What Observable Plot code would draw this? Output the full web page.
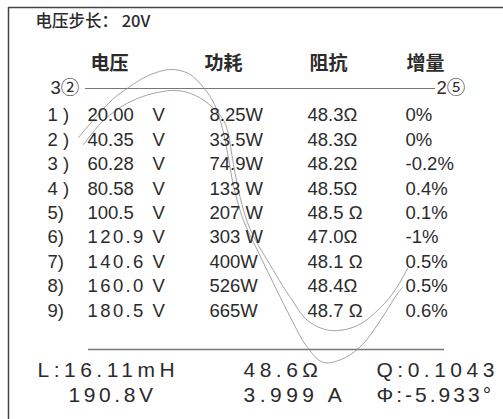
<!DOCTYPE html>
<html><head><meta charset="utf-8">
<script src="https://cdn.jsdelivr.net/npm/d3@7"></script>
<script src="https://cdn.jsdelivr.net/npm/@observablehq/plot@0.6"></script>
<style>body{margin:0;background:#fff} svg{display:block}</style>
</head><body><div id="chart"></div>
<script>
// ---- data ----
const stepLabel = "电压步长： 20V";
const headers = ["电压", "功耗", "阻抗", "增量"];
const rowLabels = ["1 )", "2 )", "3 )", "4 )", "5)", "6)", "7)", "8)", "9)"];
const voltages = ["20.00", "40.35", "60.28", "80.58", "100.5", "120.9", "140.6", "160.0", "180.5"];
const voltUnit = "V";
const powers = ["8.25W", "33.5W", "74.9W", "133 W", "207 W", "303 W", "400W", "526W", "665W"];
const impedances = ["48.3Ω", "48.3Ω", "48.2Ω", "48.5Ω", "48.5 Ω", "47.0Ω", "48.1 Ω", "48.4Ω", "48.7 Ω"];
const increments = ["0%", "0%", "-0.2%", "0.4%", "0.1%", "-1%", "0.5%", "0.5%", "0.6%"];
const markerLeft = "3②";
const markerRight = "2⑤";
const summaryRow1 = ["L:16.11mH", "48.6Ω", "Q:0.1043"];
const summaryRow2 = ["190.8V", "3.999 A", "Φ:-5.933°"];
// traced wave overlays (screen units)
const waveOuter = [[78,137],[95,117],[112,99],[128,87],[148,75],[170,69],[188,73],[203,87],[214,104],[222,128],[227,152],[233,185],[243,220],[258,252],[273,283],[290,317],[307,347],[323,362],[345,357],[362,344],[373,330],[385,312],[397,293],[402,287]];
const waveInner = [[83,144],[100,123],[118,108],[137,98],[157,92],[177,90],[195,95],[210,105],[222,118],[227,130],[232,158],[238,190],[247,222],[258,245],[270,265],[282,285],[290,297],[307,320],[330,330],[357,325],[380,307],[395,289],[407,268]];

// ---- layout (not data) ----
const W = 503, H = 419;
const L = {rowTop: 115, rowStep: 24.4, label: 47, volt: 87, unit: 152, power: 209, imp: 307, inc: 405,
  headerY: 63, headerX: [109, 223, 328, 425], markY: 88, sumX: [37, 243, 376], sumY: [370, 395]};
const spacedRows = [5, 6, 7, 8];
const ink = "#2b2b2b";
const latin = "'Liberation Sans', Arial, 'Noto Sans CJK SC', sans-serif";
const cjk = "'Noto Sans CJK SC', sans-serif";
const rowY = (d, i) => L.rowTop + i * L.rowStep;

const rowText = (arr, x, tag) => Plot.text(arr, {
  x: () => x, y: rowY, text: d => d, textAnchor: "start", fontSize: 18.5,
  fontFamily: latin, fill: ink, ariaLabel: (d, i) => tag + i
});

const chart = Plot.plot({
  width: W, height: H, margin: 0,
  x: {domain: [0, W], axis: null},
  y: {domain: [0, H], reverse: true, axis: null},
  style: {background: "#fff"},
  marks: [
    Plot.ruleX([8], {y1: 7, y2: H, stroke: "#444", strokeWidth: 1.5}),
    Plot.ruleY([7], {x1: 8, x2: W, stroke: "#444", strokeWidth: 1.5}),
    Plot.ruleY([L.markY], {x1: 85, x2: 435, stroke: "#777", strokeWidth: 1}),
    Plot.ruleY([349], {x1: 88, x2: 444, stroke: "#777", strokeWidth: 1.5}),
    Plot.line(waveOuter, {x: d => d[0], y: d => d[1], curve: "catmull-rom", stroke: "#8a8a8a", strokeWidth: 0.8}),
    Plot.line(waveInner, {x: d => d[0], y: d => d[1], curve: "catmull-rom", stroke: "#8a8a8a", strokeWidth: 0.8}),
    Plot.text([stepLabel], {x: () => 35, y: () => 21, text: d => d, textAnchor: "start", fontSize: 16.5,
      fontFamily: cjk, fontWeight: 500, fill: ink}),
    Plot.text(headers, {x: (d, i) => L.headerX[i], y: () => L.headerY, text: d => d, fontSize: 19,
      fontFamily: cjk, fontWeight: 700, fill: ink}),
    Plot.text([markerLeft], {x: () => 50, y: () => L.markY, text: d => d, textAnchor: "start", fontSize: 18.5, fontFamily: latin, fill: ink}),
    Plot.text([markerRight], {x: () => 436, y: () => L.markY, text: d => d, textAnchor: "start", fontSize: 18.5, fontFamily: latin, fill: ink}),
    rowText(rowLabels, L.label, "lab"),
    rowText(voltages, L.volt, "volt"),
    rowText(voltages.map(() => voltUnit), L.unit, "unit"),
    rowText(powers, L.power, "pow"),
    rowText(impedances, L.imp, "imp"),
    rowText(increments, L.inc, "inc"),
    Plot.text(summaryRow1, {x: (d, i) => L.sumX[i], y: () => L.sumY[0], text: d => d, textAnchor: "start",
      fontSize: 21, fontFamily: latin, fill: ink, ariaLabel: (d, i) => "sumA" + i}),
    Plot.text(summaryRow2, {x: (d, i) => L.sumX[i] + (i === 0 ? 31 : 0), y: () => L.sumY[1], text: d => d, textAnchor: "start",
      fontSize: 21, fontFamily: latin, fill: ink, ariaLabel: (d, i) => "sumB" + i})
  ]
});
chart.querySelectorAll('text[aria-label^="sum"]').forEach(t => {
  const id = t.getAttribute("aria-label");
  t.setAttribute("letter-spacing", id === "sumB2" ? "3" : id === "sumB0" ? "3.6" : "4.5");
});
spacedRows.forEach(i => {
  const t = chart.querySelector(`text[aria-label="volt${i}"]`);
  if (t) t.setAttribute("letter-spacing", "2.4");
});
document.getElementById("chart").append(chart);
</script>
</body></html>
